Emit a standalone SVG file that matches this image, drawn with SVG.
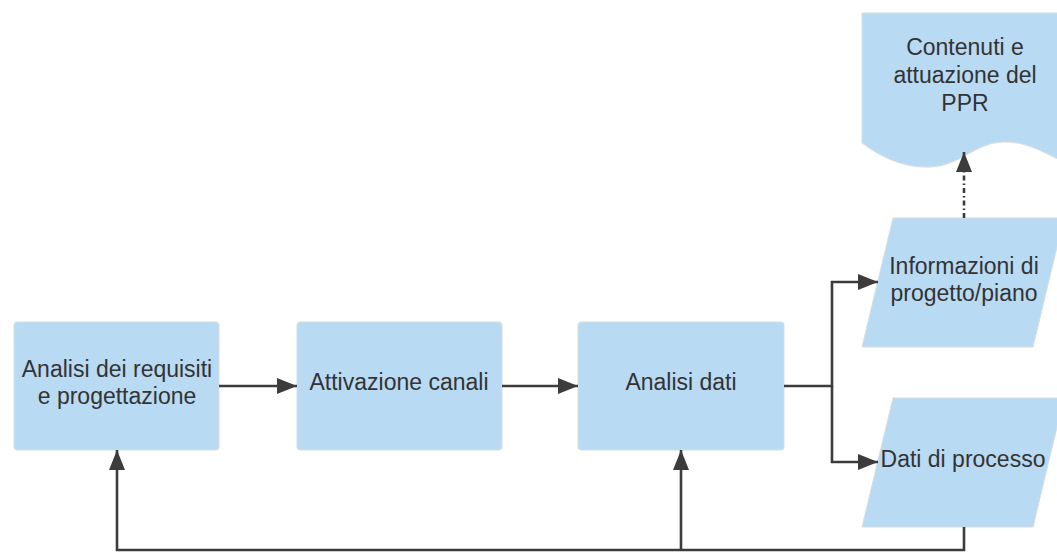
<svg xmlns="http://www.w3.org/2000/svg" width="1057" height="552" viewBox="0 0 1057 552">
<style>
.n{fill:#b9daf3;stroke:#d6dde3;stroke-width:1}
.t{font-family:"Liberation Sans",Arial,sans-serif;font-size:23px;fill:#333333;text-anchor:middle}
.c{fill:none;stroke:#3c3c3c;stroke-width:2.6}
.d{fill:none;stroke:#3c3c3c;stroke-width:2.6;stroke-dasharray:5 3 1.5 3}
</style>
<defs>
<marker id="ah" viewBox="0 0 20 16" refX="20" refY="8" markerWidth="20" markerHeight="16" markerUnits="userSpaceOnUse" orient="auto">
<path d="M0,0 L20,8 L0,16 Z" fill="#3c3c3c"/>
</marker>
</defs>
<rect width="1057" height="552" fill="#ffffff"/>
<g id="n1"><rect class="n" x="14" y="322" width="205" height="128" rx="3"/><text class="t" x="117" y="377">Analisi dei requisiti</text><text class="t" x="117" y="404">e progettazione</text></g>
<g id="n2"><rect class="n" x="297" y="322" width="205" height="128" rx="3"/><text class="t" x="399" y="390">Attivazione canali</text></g>
<g id="n3"><rect class="n" x="578" y="322" width="206" height="128" rx="3"/><text class="t" x="681" y="390">Analisi dati</text></g>
<g id="n4"><path class="n" d="M893,218 H1064 L1033,347 H862 Z"/><text class="t" x="964" y="274">Informazioni di</text><text class="t" x="964" y="301">progetto/piano</text></g>
<g id="n5"><path class="n" d="M893,398 H1064 L1033,527 H862 Z"/><text class="t" x="963" y="467">Dati di processo</text></g>
<g id="n6"><path class="n" d="M862,13 H1070 V166 C1045,152 1025,141 1002,142 C975,143 960,166 930,167 C902,168 880,156 862,143 Z"/><text class="t" x="965" y="55">Contenuti e</text><text class="t" x="965" y="83">attuazione del</text><text class="t" x="965" y="111">PPR</text></g>
<g id="connectors">
<path class="c" d="M219,386 H297" marker-end="url(#ah)"/>
<path class="c" d="M502,386 H578" marker-end="url(#ah)"/>
<path class="c" d="M784,386 H832 V282 H878" marker-end="url(#ah)"/>
<path class="c" d="M832,386 V462 H878" marker-end="url(#ah)"/>
<path class="c" d="M964,527 V550 H117 V450" marker-end="url(#ah)"/>
<path class="c" d="M681,550 V450" marker-end="url(#ah)"/>
<path class="d" d="M964,218 V152" marker-end="url(#ah)"/>
</g>
</svg>
